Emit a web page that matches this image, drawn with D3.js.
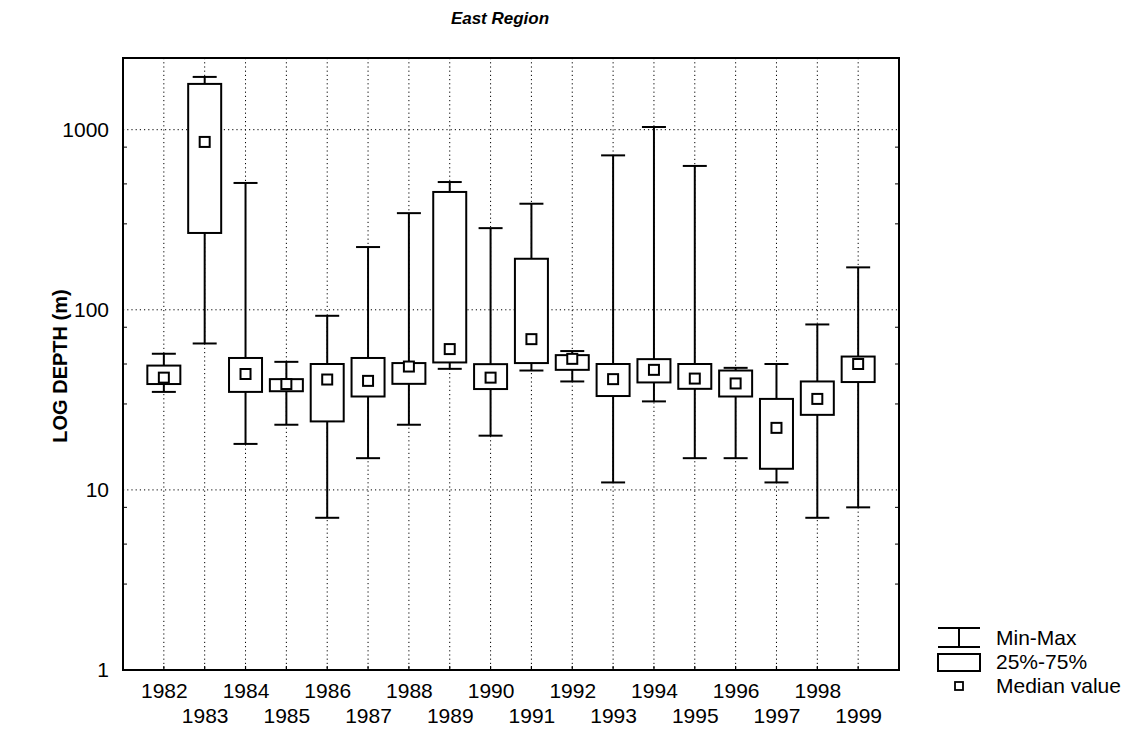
<!DOCTYPE html>
<html>
<head>
<meta charset="utf-8">
<script src="https://cdn.jsdelivr.net/npm/d3@7"></script>
<style>
  body { margin: 0; background: #fff; }
  svg { display: block; }
  text { font-family: "Liberation Sans", Arial, sans-serif; fill: #000; }
</style>
</head>
<body>
<svg id="chart" width="1139" height="730"></svg>
<script>
const years = ["1982","1983","1984","1985","1986","1987","1988","1989","1990","1991","1992","1993","1994","1995","1996","1997","1998","1999"];
const minVals = [35, 65, 18, 23, 7, 15, 23, 47, 20, 46, 40, 11, 31, 15, 15, 11, 7, 8];
const q1Vals  = [38.7, 267, 35, 35.3, 24, 33, 38.8, 51, 36.3, 50.6, 46.4, 33.2, 39.5, 36.4, 33, 13.1, 26.1, 39.7];
const medVals = [42, 855, 44, 38.7, 41, 40.3, 48.4, 60.5, 42, 68.7, 53.4, 41.2, 46.4, 41.5, 39, 22.1, 32, 50];
const q3Vals  = [49, 1795, 54, 41.2, 50, 54, 50.6, 451, 49.9, 192, 56, 50, 53.2, 50, 46, 32, 40, 55];
const maxVals = [57, 1963, 506, 51.4, 92.6, 223, 344, 512, 284, 388, 59, 720, 1035, 629, 47.6, 50, 82.9, 172];
const yTicks = [1, 10, 100, 1000];
const yMinor = [3, 5, 8, 30, 50, 80, 300, 500, 800];
const legendLabels = ["Min-Max", "25%-75%", "Median value"];
const titleText = "East Region";
const yLabel = "LOG DEPTH (m)";

const data = years.map((y, i) => ({year: y, min: minVals[i], q1: q1Vals[i], med: medVals[i], q3: q3Vals[i], max: maxVals[i]}));

const L = 123, R = 899, T = 58, B = 670;
const svg = d3.select("#chart");
const x = d3.scalePoint().domain(years).range([L, R]).padding(1);
const y = d3.scaleLog().domain([1, 2500]).range([B, T]);

// grid
const grid = svg.append("g").attr("stroke", "#000").attr("stroke-width", 1).attr("stroke-dasharray", "1.2,3");
grid.selectAll("line.v").data(years).join("line")
  .attr("x1", d => x(d)).attr("x2", d => x(d)).attr("y1", T).attr("y2", B);
grid.selectAll("line.h").data(yTicks.filter(d => d > 1)).join("line")
  .attr("x1", L).attr("x2", R).attr("y1", d => y(d)).attr("y2", d => y(d));

// axes
const yAxis = d3.axisLeft(y).tickValues(yTicks).tickFormat(d3.format("d")).tickSize(0).tickPadding(14);
const gy = svg.append("g").attr("transform", `translate(${L},0)`).call(yAxis);
gy.select(".domain").remove();
gy.selectAll("text").attr("font-size", 21).style("font-family", "Liberation Sans, Arial, sans-serif");

const minorG = svg.append("g").attr("stroke", "#000").attr("stroke-width", 1);
minorG.selectAll("line.l").data(yMinor).join("line")
  .attr("x1", L).attr("x2", L + 4).attr("y1", d => y(d)).attr("y2", d => y(d));
minorG.selectAll("line.r").data(yMinor).join("line")
  .attr("x1", R).attr("x2", R - 4).attr("y1", d => y(d)).attr("y2", d => y(d));

const xAxis = d3.axisBottom(x).tickSize(0).tickPadding(0).tickFormat(d => d);
const gx = svg.append("g").attr("transform", `translate(0,${B})`).call(xAxis);
gx.select(".domain").remove();
gx.selectAll("text")
  .attr("font-size", 21)
  .style("font-family", "Liberation Sans, Arial, sans-serif")
  .attr("dy", null)
  .attr("y", (d, i) => i % 2 === 0 ? 28 : 53);

svg.append("g").attr("stroke", "#000").attr("stroke-width", 1.2)
  .selectAll("line").data(years).join("line")
  .attr("x1", d => x(d)).attr("x2", d => x(d)).attr("y1", B).attr("y2", B - 4);

// frame
svg.append("rect").attr("x", L).attr("y", T).attr("width", R - L).attr("height", B - T)
  .attr("fill", "none").attr("stroke", "#000").attr("stroke-width", 2);

// boxes
const bw = 33, cw = 24, ms = 10;
const g = svg.append("g").attr("stroke", "#000").attr("stroke-width", 2);
const items = g.selectAll("g.item").data(data).join("g");
items.append("line").attr("x1", d => x(d.year)).attr("x2", d => x(d.year))
  .attr("y1", d => y(d.max)).attr("y2", d => y(d.q3));
items.append("line").attr("x1", d => x(d.year)).attr("x2", d => x(d.year))
  .attr("y1", d => y(d.q1)).attr("y2", d => y(d.min));
items.append("line").attr("x1", d => x(d.year) - cw/2).attr("x2", d => x(d.year) + cw/2)
  .attr("y1", d => y(d.max)).attr("y2", d => y(d.max));
items.append("line").attr("x1", d => x(d.year) - cw/2).attr("x2", d => x(d.year) + cw/2)
  .attr("y1", d => y(d.min)).attr("y2", d => y(d.min));
items.append("rect").attr("x", d => x(d.year) - bw/2).attr("width", bw)
  .attr("y", d => y(d.q3)).attr("height", d => y(d.q1) - y(d.q3)).attr("fill", "#fff");
items.append("rect").attr("x", d => x(d.year) - ms/2).attr("width", ms)
  .attr("y", d => y(d.med) - ms/2).attr("height", ms).attr("fill", "#fff");

// title
svg.append("text").attr("x", 500).attr("y", 24).attr("text-anchor", "middle")
  .attr("font-size", 17).attr("font-weight", "bold").attr("font-style", "italic").text(titleText);

// y label
svg.append("text").attr("transform", "translate(67,366) rotate(-90)").attr("text-anchor", "middle")
  .attr("font-size", 20).attr("font-weight", "bold").text(yLabel);

// legend
const lg = svg.append("g");
const lx = 938, lw = 42, tx = 996;
const rows = [637, 661, 685];
const ls = lg.append("g").attr("stroke", "#000").attr("stroke-width", 2).attr("fill", "#fff");
ls.append("line").attr("x1", lx).attr("x2", lx + lw).attr("y1", rows[0] - 9).attr("y2", rows[0] - 9);
ls.append("line").attr("x1", lx).attr("x2", lx + lw).attr("y1", rows[0] + 10).attr("y2", rows[0] + 10);
ls.append("line").attr("x1", lx + lw/2).attr("x2", lx + lw/2).attr("y1", rows[0] - 9).attr("y2", rows[0] + 10);
ls.append("rect").attr("x", lx).attr("y", rows[1] - 7).attr("width", lw).attr("height", 17);
ls.append("rect").attr("x", lx + lw/2 - 4).attr("y", rows[2] - 3).attr("width", 8).attr("height", 8).attr("stroke-width", 1.8);
lg.selectAll("text").data(legendLabels).join("text")
  .attr("x", tx).attr("y", (d, i) => rows[i] + 8).attr("font-size", 21).text(d => d);
</script>
</body>
</html>
